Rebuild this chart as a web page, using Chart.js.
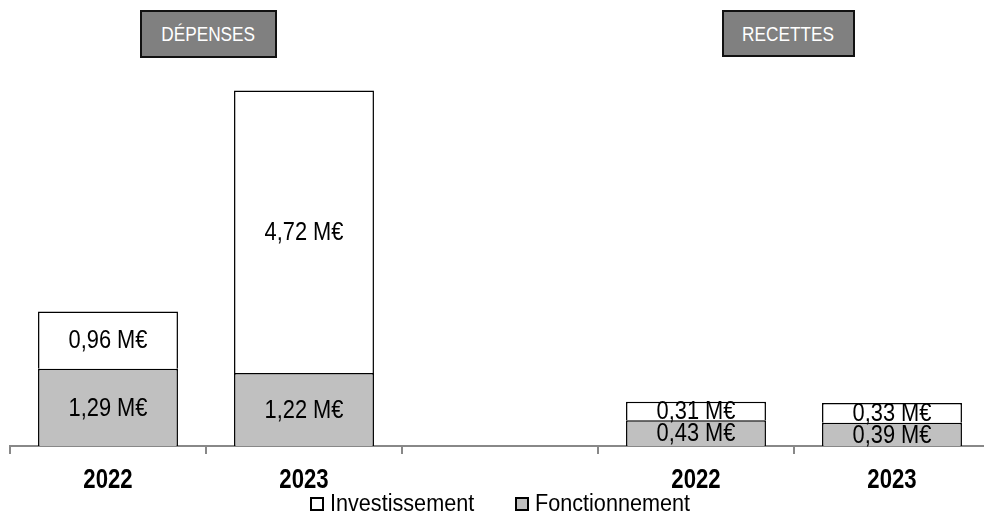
<!DOCTYPE html>
<html>
<head>
<meta charset="utf-8">
<script src="https://cdn.jsdelivr.net/npm/chart.js@4"></script>
<style>
  html, body { margin: 0; padding: 0; background: #fff; overflow: hidden; }
  body { width: 984px; height: 517px; position: relative; font-family: 'Liberation Sans', Arial, sans-serif; }
  #wrap { position: absolute; left: 0; top: 0; width: 1000px; height: 517px; }
  .head-box {
    position: absolute;
    background: #808080;
    border: 2px solid #111;
    color: #fff;
    font-size: 21px;
    display: flex;
    align-items: center;
    justify-content: center;
    box-sizing: border-box;
  }
  .head-box span { display: inline-block; transform: scaleX(0.82); white-space: nowrap; }
  .lg-sw {
    position: absolute; top: 497px; width: 14px; height: 14px;
    box-sizing: border-box; border: 2px solid #000;
  }
  .lg-txt {
    position: absolute; top: 490px; font-size: 23px; line-height: 26px; color: #000;
    transform: scaleX(0.94); transform-origin: left center; white-space: nowrap;
  }
</style>
</head>
<body>
<div id="wrap"><canvas id="chart"></canvas></div>
<div class="head-box" style="left:140px; top:10px; width:137px; height:48px;"><span>DÉPENSES</span></div>
<div class="head-box" style="left:722px; top:10px; width:133px; height:47px;"><span>RECETTES</span></div>
<div id="legend"></div>

<script>
// categories (the empty one is the gap between DÉPENSES and RECETTES)
const categories = ['2022', '2023', '', '2022', '2023'];
// values in millions of euros
const fonctionnement = [1.29, 1.22, null, 0.43, 0.39];
const investissement = [0.96, 4.72, null, 0.31, 0.33];
const seriesNames = ['Fonctionnement', 'Investissement'];
const seriesColors = ['#c0c0c0', '#ffffff'];

const FONT = "'Liberation Sans', Arial, sans-serif";

function formatValue(v) {
    return v.toFixed(2).replace('.', ',') + ' M€';
}

// narrow text: the original uses a condensed face, squeeze Liberation Sans
function narrowText(ctx, text, x, y, sx) {
    ctx.save();
    ctx.translate(x, y);
    ctx.scale(sx, 1);
    ctx.fillText(text, 0, 0);
    ctx.restore();
}

// value label centered in each bar segment + bold year labels under the axis
const barLabels = {
    id: 'barLabels',
    afterDatasetsDraw(chart) {
        const ctx = chart.ctx;
        ctx.save();
        ctx.fillStyle = '#000';
        ctx.textAlign = 'center';
        ctx.textBaseline = 'middle';
        ctx.font = '26px ' + FONT;
        chart.data.datasets.forEach((ds, i) => {
            const meta = chart.getDatasetMeta(i);
            meta.data.forEach((bar, j) => {
                const v = ds.data[j];
                if (v == null) return;
                narrowText(ctx, formatValue(v), bar.x, (bar.y + bar.base) / 2 + 1, 0.84);
            });
        });

        const xs = chart.scales.x;
        ctx.font = 'bold 27px ' + FONT;
        chart.data.labels.forEach((lab, i) => {
            if (!lab) return;
            narrowText(ctx, lab, xs.getPixelForValue(i), xs.top + 35, 0.82);
        });
        ctx.restore();
    }
};

const chart = new Chart(document.getElementById('chart'), {
    type: 'bar',
    data: {
        labels: categories,
        datasets: [
            {
                label: seriesNames[0],
                data: fonctionnement,
                backgroundColor: seriesColors[0],
                borderColor: '#000',
                borderWidth: 1.5,
                categoryPercentage: 1,
                barPercentage: 0.714
            },
            {
                label: seriesNames[1],
                data: investissement,
                backgroundColor: seriesColors[1],
                borderColor: '#000',
                borderWidth: 1.5,
                categoryPercentage: 1,
                barPercentage: 0.714
            }
        ]
    },
    options: {
        responsive: true,
        maintainAspectRatio: false,
        animation: false,
        layout: { padding: { left: 10, right: 10, top: 87, bottom: 61 } },
        plugins: {
            legend: { display: false },
            tooltip: { enabled: false }
        },
        scales: {
            x: {
                stacked: true,
                grid: {
                    display: true,
                    drawOnChartArea: false,
                    offset: true,
                    tickLength: 8,
                    color: '#888',
                    lineWidth: 2
                },
                border: { display: true, color: '#888', width: 2 },
                ticks: { display: false },
                afterFit(scale) { scale.height = 10; }
            },
            y: {
                stacked: true,
                display: false,
                min: 0,
                max: 6
            }
        }
    },
    plugins: [barLabels]
});

// legend, Investissement first like the original
const legendEl = document.getElementById('legend');
const legendPos = [[310, 330], [515, 535]];
[1, 0].forEach((s, k) => {
    const sw = document.createElement('div');
    sw.className = 'lg-sw';
    sw.style.left = legendPos[k][0] + 'px';
    sw.style.background = seriesColors[s];
    const txt = document.createElement('div');
    txt.className = 'lg-txt';
    txt.style.left = legendPos[k][1] + 'px';
    txt.textContent = seriesNames[s];
    legendEl.appendChild(sw);
    legendEl.appendChild(txt);
});
</script>
</body>
</html>
